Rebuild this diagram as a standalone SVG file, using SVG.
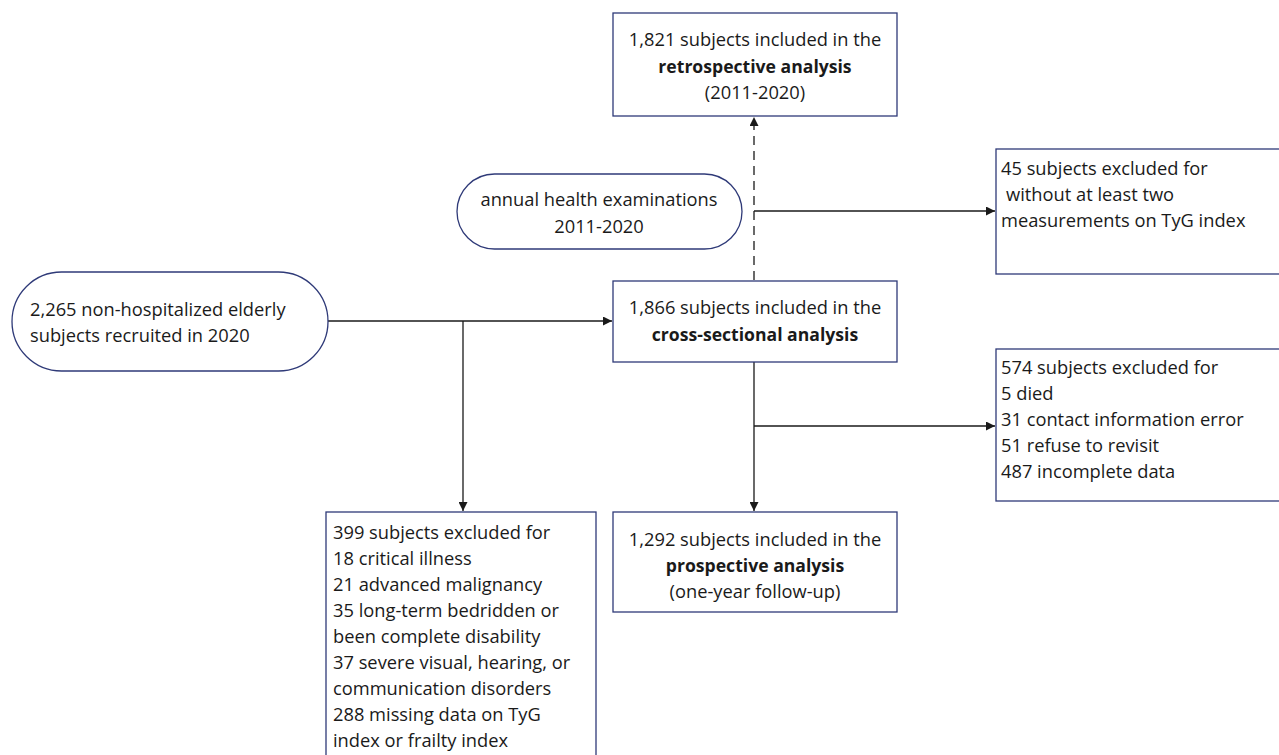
<svg xmlns="http://www.w3.org/2000/svg" width="1279" height="755" viewBox="0 0 1279 755">
<style>
text{font-family:"Open Sans","Noto Sans","Liberation Sans",sans-serif;font-size:18.3px;fill:#1a1a1a}
.c{text-anchor:middle}
.b{font-weight:bold;font-size:17.6px}
.box{fill:#fff;stroke:#2f3a78;stroke-width:1.3}
.ln{fill:none;stroke:#1a1a1a;stroke-width:1.3}
.dash{stroke-dasharray:9 6}
</style>
<defs>
<marker id="ah" viewBox="0 0 10 10" refX="10" refY="5" markerWidth="9" markerHeight="9" markerUnits="userSpaceOnUse" orient="auto">
<path d="M0,0 L10,5 L0,10 z" fill="#1a1a1a"/>
</marker>
</defs>
<rect width="1279" height="755" fill="#fff"/>
<g id="connectors">
<path class="ln dash" d="M754,280 V117" marker-end="url(#ah)"/>
<path class="ln" d="M754,211 H995" marker-end="url(#ah)"/>
<path class="ln" d="M328,321 H612" marker-end="url(#ah)"/>
<path class="ln" d="M463,321 V511" marker-end="url(#ah)"/>
<path class="ln" d="M754,362 V511" marker-end="url(#ah)"/>
<path class="ln" d="M754,426 H995" marker-end="url(#ah)"/>
</g>
<g id="retro">
<rect class="box" x="613" y="13" width="284" height="103"/>
<text class="c" x="755" y="46">1,821 subjects included in the</text>
<text class="c b" x="755" y="73">retrospective analysis</text>
<text class="c" x="755" y="99">(2011-2020)</text>
</g>
<g id="annual">
<rect class="box" x="457" y="174" width="285" height="75" rx="37.5"/>
<text class="c" x="599" y="206">annual health examinations</text>
<text class="c" x="599" y="233">2011-2020</text>
</g>
<g id="excl45">
<rect class="box" x="996" y="149" width="290" height="125"/>
<text x="1001" y="175">45 subjects excluded for</text>
<text x="1006" y="201">without at least two</text>
<text x="1001" y="227">measurements on TyG index</text>
</g>
<g id="recruit">
<rect class="box" x="12" y="272" width="316" height="99" rx="49.5"/>
<text x="30" y="316">2,265 non-hospitalized elderly</text>
<text x="30" y="342">subjects recruited in 2020</text>
</g>
<g id="cross">
<rect class="box" x="613" y="281" width="284" height="81"/>
<text class="c" x="755" y="314">1,866 subjects included in the</text>
<text class="c b" x="755" y="341">cross-sectional analysis</text>
</g>
<g id="excl574">
<rect class="box" x="996" y="349" width="290" height="152"/>
<text x="1001" y="374">574 subjects excluded for</text>
<text x="1001" y="400">5 died</text>
<text x="1001" y="426">31 contact information error</text>
<text x="1001" y="452">51 refuse to revisit</text>
<text x="1001" y="478">487 incomplete data</text>
</g>
<g id="prosp">
<rect class="box" x="613" y="512" width="284" height="100"/>
<text class="c" x="755" y="546">1,292 subjects included in the</text>
<text class="c b" x="755" y="572">prospective analysis</text>
<text class="c" x="755" y="598">(one-year follow-up)</text>
</g>
<g id="excl399">
<rect class="box" x="326" y="512" width="270" height="260"/>
<text x="333" y="539">399 subjects excluded for</text>
<text x="333" y="565">18 critical illness</text>
<text x="333" y="591">21 advanced malignancy</text>
<text x="333" y="617">35 long-term bedridden or</text>
<text x="333" y="643">been complete disability</text>
<text x="333" y="669">37 severe visual, hearing, or</text>
<text x="333" y="695">communication disorders</text>
<text x="333" y="721">288 missing data on TyG</text>
<text x="333" y="747">index or frailty index</text>
</g>
</svg>
